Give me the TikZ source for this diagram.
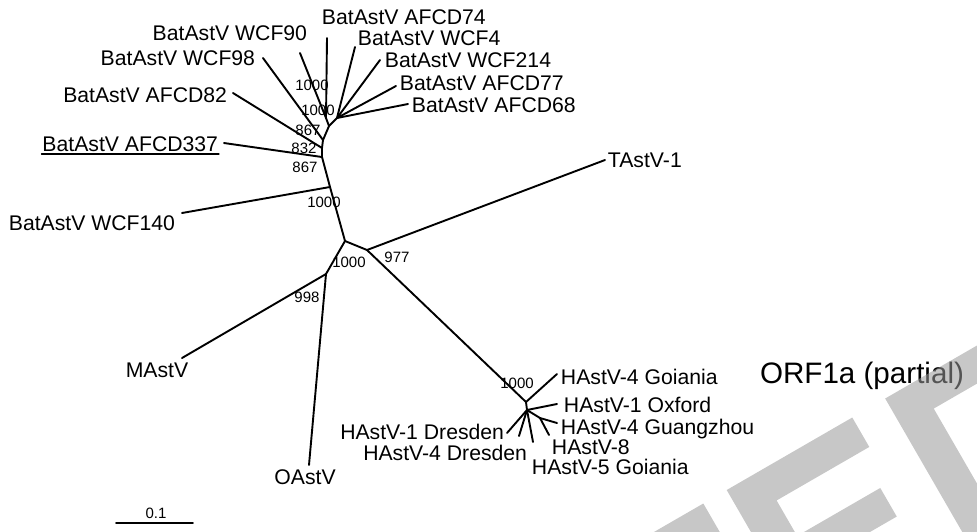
\documentclass[tikz,border=0pt]{standalone}
\usepackage{fontspec}
\setmainfont{Liberation Sans}
\usepackage{tikz}
\usetikzlibrary{positioning}

\begin{document}
\begin{tikzpicture}[x=1pt,y=-1pt,line width=1.9pt,line cap=round,line join=round,
        every node/.style={inner sep=0pt}]
        \tikzstyle{leaf}=[font=\fontsize{21.2}{24}\selectfont,text height=15.2pt,text depth=0pt]
        \tikzstyle{boot}=[font=\fontsize{15}{17}\selectfont,text height=10.7pt,text depth=0pt]
        \tikzstyle{stamp}=[fill=black!40,fill opacity=.55]
        \useasboundingbox (0,0) rectangle (977,531);
        \coordinate (X) at (345,241);
        \coordinate (Y) at (367,250);
        \coordinate (Z) at (326,274);
        \coordinate (B1) at (330,187);
        \coordinate (B2) at (322,157);
        \coordinate (B3) at (322,148);
        \coordinate (B4) at (323,140);
        \coordinate (B5) at (329,126);
        \coordinate (B6) at (326,118);
        \coordinate (B7) at (337,118);
        \coordinate (H1) at (526,402);
        \coordinate (H2) at (527,410);
        \coordinate (H3) at (540,418);
        \coordinate (L90) at (300,53);
        \coordinate (L98) at (263,58);
        \coordinate (L82) at (233,93);
        \coordinate (L337) at (224,143);
        \coordinate (L140) at (182,213);
        \coordinate (L74) at (327,38);
        \coordinate (L4) at (355,47);
        \coordinate (L214) at (380,60);
        \coordinate (L77) at (396,86);
        \coordinate (L68) at (408,104);
        \coordinate (LT) at (605,160);
        \coordinate (LM) at (182,358);
        \coordinate (LO) at (309,465);
        \coordinate (LG4) at (557,374);
        \coordinate (LOx) at (557,404);
        \coordinate (LGz) at (557,423);
        \coordinate (L8) at (549,435);
        \coordinate (LG5) at (533,442);
        \coordinate (LD1) at (507,433);
        \coordinate (LD4) at (519,436);
        \draw (X) -- (Y);
        \draw (Y) -- (LT);
        \draw (Y) -- (H1);
        \draw (X) -- (Z);
        \draw (Z) -- (LM);
        \draw (Z) -- (LO);
        \draw (X) -- (B1) -- (B2) -- (B3) -- (B4) -- (B5) -- (B6);
        \draw (B5) -- (B7);
        \draw (B1) -- (L140);
        \draw (B2) -- (L337);
        \draw (B3) -- (L82);
        \draw (B4) -- (L98);
        \draw (B6) -- (L90);
        \draw (B6) -- (L74);
        \draw (B7) -- (L4);
        \draw (B7) -- (L214);
        \draw (B7) -- (L77);
        \draw (B7) -- (L68);
        \draw (H1) -- (H2) -- (H3);
        \draw (H1) -- (LG4);
        \draw (H2) -- (LOx);
        \draw (H3) -- (LGz);
        \draw (H3) -- (L8);
        \draw (H2) -- (LG5);
        \draw (H2) -- (LD1);
        \draw (H2) -- (LD4);
        \node[leaf,anchor=east](t90) at (308,33){BatAstV WCF90};
        \node[leaf,anchor=east](t98) at (256,58){BatAstV WCF98};
        \node[leaf,anchor=east](t82) at (228,95){BatAstV AFCD82};
        \node[leaf,anchor=east](t337) at (219,144){BatAstV AFCD337};
        \node[leaf,anchor=east](t140) at (176,223){BatAstV WCF140};
        \node[leaf,anchor=west](t74) at (321,17){BatAstV AFCD74};
        \node[leaf,anchor=west](t4) at (357,38){BatAstV WCF4};
        \node[leaf,anchor=west](t214) at (384,60){BatAstV WCF214};
        \node[leaf,anchor=west](t77) at (399,83){BatAstV AFCD77};
        \node[leaf,anchor=west](t68) at (411,105){BatAstV AFCD68};
        \node[leaf,anchor=west](tT) at (607,160){TAstV-1};
        \node[leaf](tM) at (157,370){MAstV};
        \node[leaf](tO) at (305,477){OAstV};
        \node[leaf,anchor=west](tG4) at (560,377){HAstV-4 Goiania};
        \node[leaf,anchor=west](tOx) at (563,405){HAstV-1 Oxford};
        \node[leaf,anchor=west](tGz) at (560,427){HAstV-4 Guangzhou};
        \node[leaf,anchor=west](t8) at (551,447){HAstV-8};
        \node[leaf,anchor=west](tG5) at (531,467){HAstV-5 Goiania};
        \node[leaf,anchor=east](tD1) at (505,432){HAstV-1 Dresden};
        \node[leaf,anchor=east](tD4) at (528,453){HAstV-4 Dresden};
        \draw[line width=1.2pt] ([yshift=-9.9pt]t337.west) -- ([yshift=-9.9pt]t337.east);
        \node[boot](b1) at (312,85){1000};
        \node[boot](b2) at (318,110){1000};
        \node[boot](b3) at (308,130){867};
        \node[boot](b4) at (304,148){832};
        \node[boot](b5) at (305,167){867};
        \node[boot](b6) at (324,202){1000};
        \node[boot](b7) at (349,262){1000};
        \node[boot](b8) at (307,297){998};
        \node[boot](b9) at (397,257){977};
        \node[boot](b10) at (517,383){1000};
        \node[font=\fontsize{29.6}{32}\selectfont,text height=21.2pt,text depth=0pt](title) at (862,373){ORF1a (partial)};
        \coordinate (S1) at (116,523);
        \coordinate (S2) at (193,523);
        \draw (S1) -- (S2);
        \node[boot,above=4pt of S1,xshift=40pt](scale){0.1};
        \begin{scope}
        \clip (0,0) rectangle (977,531);
        \fill[stamp,shift={(726.7,490)},rotate=30] (-110,0) rectangle (-27,60)
            (0,0) rectangle (145,34) (0,75) rectangle (134,108) (0,0) rectangle (38,260)
            (183,0) rectangle (460,33) (183,0) rectangle (220,320);
        \end{scope}
     \end{tikzpicture}
\end{document}
